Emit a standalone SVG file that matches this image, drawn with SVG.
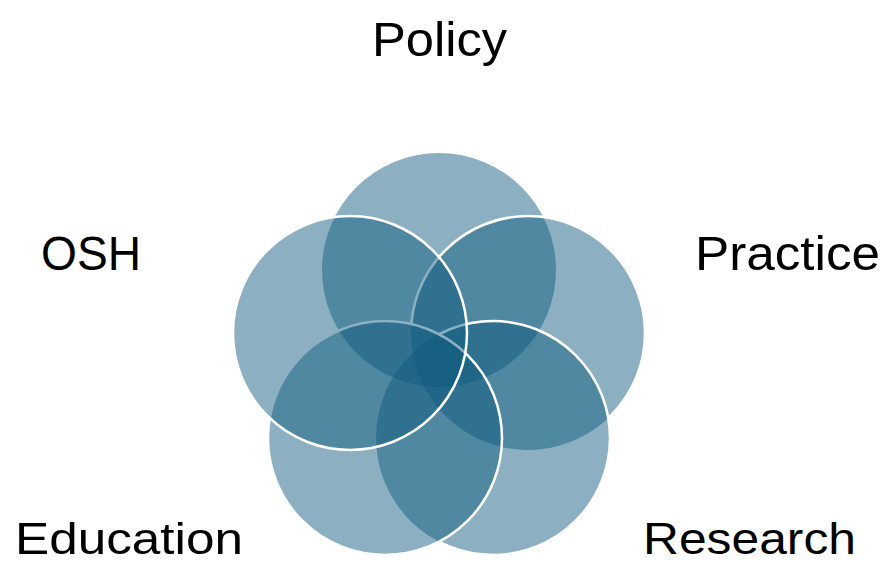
<svg xmlns="http://www.w3.org/2000/svg" width="884" height="565" viewBox="0 0 884 565">
<style>
.c{fill:#0F597D;fill-opacity:0.48}
.s{fill:none;stroke:#ffffff;stroke-width:2.5}
.t{font-family:"Liberation Sans",Arial,sans-serif;font-size:48px;fill:#000000}
.b{font-size:45px}
</style>
<defs>
<mask id="mPractice" maskUnits="userSpaceOnUse" x="0" y="0" width="884" height="565">
<rect x="0" y="0" width="884" height="565" fill="#fff"/>
<circle cx="493" cy="438" r="117" fill="#000"/>
<circle cx="385" cy="438" r="117" fill="#000"/>
</mask>
<mask id="mResearch" maskUnits="userSpaceOnUse" x="0" y="0" width="884" height="565">
<rect x="0" y="0" width="884" height="565" fill="#fff"/>
<circle cx="385" cy="438" r="117" fill="#000"/>
</mask>
</defs>
<rect x="0" y="0" width="884" height="565" fill="#ffffff"/>
<g id="policy">
<circle class="c" cx="439" cy="270" r="117"/>
<text class="t" x="372" y="56" textLength="135" lengthAdjust="spacingAndGlyphs">Policy</text>
</g>
<g id="practice">
<circle class="c" cx="528" cy="333" r="117"/>
<circle class="s" cx="528" cy="333" r="117" mask="url(#mPractice)"/>
<text class="t" x="695" y="270" textLength="185" lengthAdjust="spacingAndGlyphs">Practice</text>
</g>
<g id="research">
<circle class="c" cx="493" cy="438" r="117"/>
<circle class="s" cx="493" cy="438" r="117" mask="url(#mResearch)"/>
<text class="t b" x="643" y="554" textLength="213" lengthAdjust="spacingAndGlyphs">Research</text>
</g>
<g id="education">
<circle class="c" cx="385" cy="438" r="117"/>
<circle class="s" cx="385" cy="438" r="117"/>
<text class="t b" x="15" y="554" textLength="228" lengthAdjust="spacingAndGlyphs">Education</text>
</g>
<g id="osh">
<circle class="c" cx="350" cy="333" r="117"/>
<circle class="s" cx="350" cy="333" r="117"/>
<text class="t" x="41" y="270" textLength="100" lengthAdjust="spacingAndGlyphs">OSH</text>
</g>
<g id="connectors"></g>
</svg>
